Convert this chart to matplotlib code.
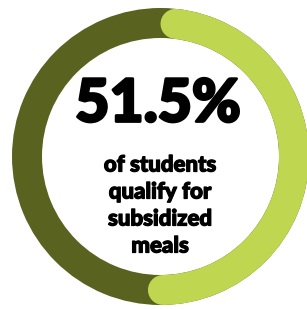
import numpy as np
import matplotlib
matplotlib.use("Agg")
import matplotlib.pyplot as plt
import matplotlib.patheffects as pe
from matplotlib.patches import Wedge

# chart data
share_pct = 51.5
headline = "51.5%"
caption_lines = ["of students", "qualify for", "subsidized", "meals"]
colors = ["#bed650", "#5a621f"]  # share, rest

# figure in pixel units (307 x 310)
fig = plt.figure(figsize=(3.07, 3.10), dpi=100)
ax = fig.add_axes([0, 0, 1, 1])
ax.set_xlim(0, 307)
ax.set_ylim(310, 0)
ax.set_aspect("equal")
ax.axis("off")

cx, cy = 160.5, 156.5
r_out, ring = 148.5, 30
r_mid = r_out - ring / 2

# background ring (remaining share)
ax.add_patch(Wedge((cx, cy), r_out, 0, 360, width=ring, color=colors[1], lw=0))

# highlighted arc with round caps, clockwise from the top
span = share_pct / 100 * 360
cap = np.degrees((ring / 2) / r_mid)
theta = np.radians(np.linspace(90 - cap, 90 - span + cap, 300))
ax.plot(cx + r_mid * np.cos(theta), cy - r_mid * np.sin(theta),
        color=colors[0], lw=ring * 72 / 100, solid_capstyle="round")

# center text (stroke to make it heavier)
fam = ["Lato", "DejaVu Sans"]
ax.text(158, 104, headline, ha="center", va="center", fontsize=42.5,
        fontweight="black", family=fam, color="black",
        path_effects=[pe.withStroke(linewidth=2, foreground="black")])
for i, line in enumerate(caption_lines):
    ax.text(160, 165 + i * 27, line, ha="center", va="center", fontsize=16,
            fontweight="black", family=fam, color="black",
            path_effects=[pe.withStroke(linewidth=0.9, foreground="black")])

fig.savefig("out.png", dpi=100)
